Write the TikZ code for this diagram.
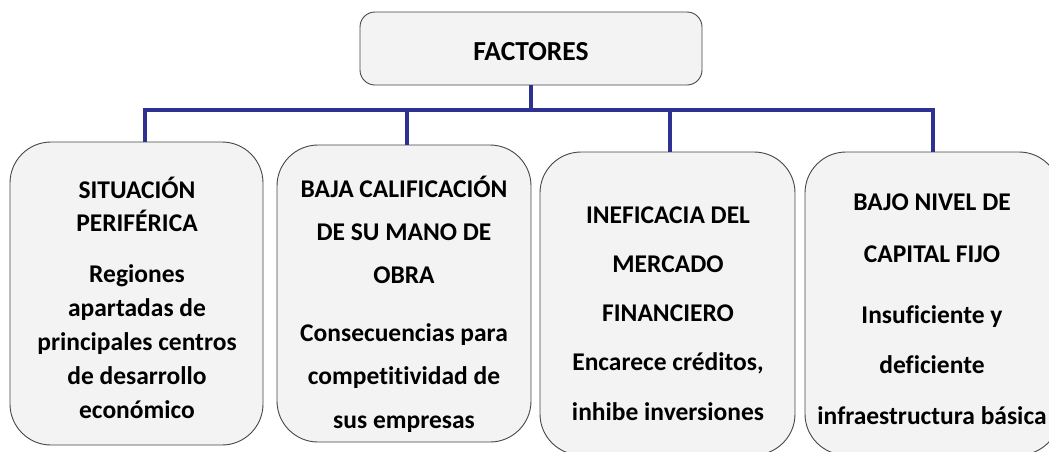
\documentclass[tikz,border=0pt]{standalone}
\usepackage{fontspec}
\setmainfont{Carlito}[Ligatures={NoCommon,NoRare}]
\definecolor{barblue}{RGB}{46,49,146}
\definecolor{boxfill}{RGB}{243,243,243}
\definecolor{boxdraw}{RGB}{70,70,70}
\begin{document}
\begin{tikzpicture}[x=1pt,y=-1pt,
  card/.style={draw=boxdraw, line width=0.9pt, fill=boxfill, rounded corners=41pt, inner sep=0pt},
  topcard/.style={draw=boxdraw, line width=0.9pt, fill=boxfill, rounded corners=15pt, inner sep=0pt},
  lbl/.style={align=center, font=\bfseries\fontsize{25.5}{#1}\selectfont, inner sep=0pt},
  link/.style={draw=barblue, line width=4.5pt, line join=miter}
]
\useasboundingbox (0,0) rectangle (1049,451);
% boxes
\node[topcard, minimum width=342pt, minimum height=73pt] (top) at (531,48.5) {};
\node[card, minimum width=253pt, minimum height=303pt] (b1) at (136.5,293.5) {};
\node[card, minimum width=254pt, minimum height=297pt] (b2) at (404,293.5) {};
\node[card, minimum width=255pt, minimum height=303pt] (b3) at (667.5,303.5) {};
\node[card, minimum width=255pt, minimum height=303pt] (b4) at (932.5,303.5) {};
% texts
\node[lbl=30] (tt) at (531,52) {\fontsize{27.5}{30}\selectfont FACTORES};
\node[lbl=33] (h1) at (137,204) {SITUACIÓN\\PERIFÉRICA};
\node[lbl=34] (d1) at (137,342) {Regiones\\apartadas de\\principales centros\\de desarrollo\\económico};
\node[lbl=43] (h2) at (404,230) {BAJA CALIFICACIÓN\\DE SU MANO DE\\OBRA};
\node[lbl=43.5] (d2) at (404,378) {Consecuencias para\\competitividad de\\sus empresas};
\node[lbl=49] (h3) at (668,264) {INEFICACIA DEL\\MERCADO\\FINANCIERO};
\node[lbl=50] (d3) at (668,387) {Encarece créditos,\\inhibe inversiones};
\node[lbl=52] (h4) at (932,228) {BAJO NIVEL DE\\CAPITAL FIJO};
\node[lbl=50.5] (d4) at (932,365) {Insuficiente y\\deficiente\\infraestructura básica};
% connectors
\coordinate (hub) at (531,110);
\coordinate (j1) at (145,110);
\coordinate (j2) at (407,110);
\coordinate (j3) at (670,110);
\coordinate (j4) at (933,110);
\draw[link] (top.south) -- (hub);
\draw[link] (j1 |- b1.north) -- (j1) -- (j4) -- (j4 |- b4.north);
\draw[link] (j2) -- (j2 |- b2.north);
\draw[link] (j3) -- (j3 |- b3.north);
\end{tikzpicture}
\end{document}
